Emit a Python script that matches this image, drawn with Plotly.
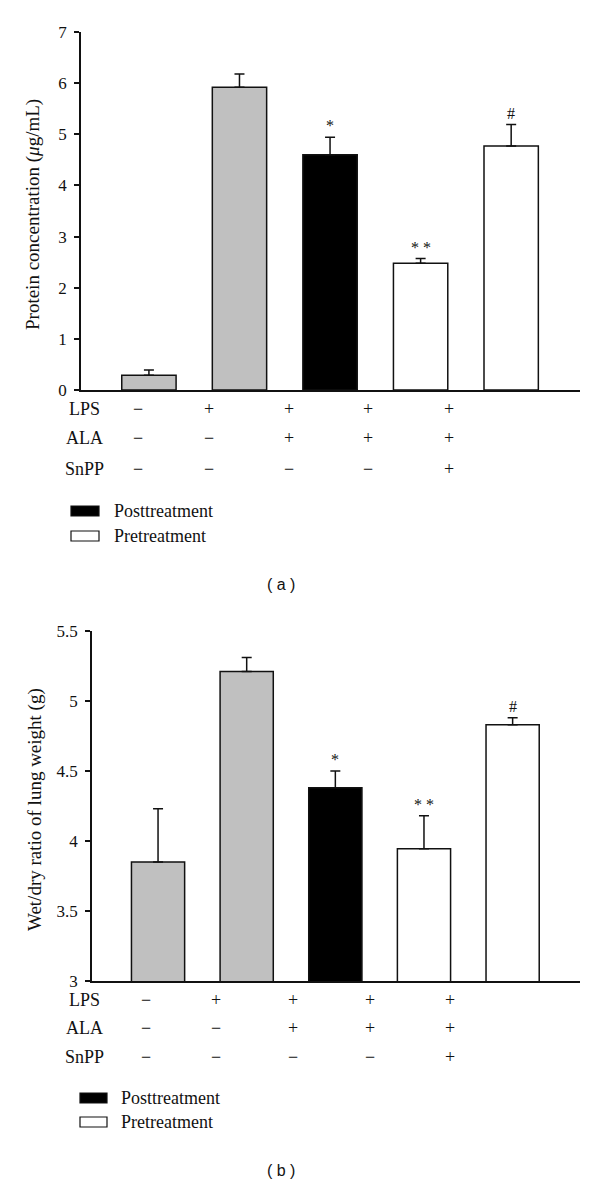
import plotly.graph_objects as go

# ---- data ----
groups = ["G1", "G2", "G3", "G4", "G5"]
protein_vals = [0.29, 5.92, 4.60, 2.48, 4.77]
protein_err = [0.10, 0.26, 0.34, 0.09, 0.42]
wetdry_vals = [3.85, 5.21, 4.38, 3.945, 4.83]
wetdry_err = [0.38, 0.10, 0.12, 0.235, 0.05]
bar_colors = ["#c0c0c0", "#c0c0c0", "#000000", "#ffffff", "#ffffff"]
sig_a = ["", "", "*", "* *", "#"]
sig_b = ["", "", "*", "* *", "#"]
row_labels = ["LPS", "ALA", "SnPP"]
LPS = ["−", "+", "+", "+", "+"]
ALA = ["−", "−", "+", "+", "+"]
SnPP = ["−", "−", "−", "−", "+"]
legend_labels = ["Posttreatment", "Pretreatment"]
legend_fills = ["#000000", "#ffffff"]
panel_labels = ["( a )", "( b )"]

W, H = 600, 1185
SERIF = "Liberation Serif"
BLACK = "#111111"

def px(x):
    return x / W

def py(y):
    return 1 - y / H

fig = go.Figure()
xs = list(range(len(groups)))

for vals, errs, xa, ya in [(protein_vals, protein_err, "x", "y"),
                           (wetdry_vals, wetdry_err, "x2", "y2")]:
    fig.add_trace(go.Bar(
        x=xs, y=vals, width=0.6,
        marker=dict(color=bar_colors, line=dict(color=BLACK, width=1.5)),
        error_y=dict(type="data", array=errs, arrayminus=[0] * len(errs),
                     symmetric=False, color=BLACK, thickness=1.5, width=5),
        xaxis=xa, yaxis=ya, showlegend=False, hoverinfo="skip"))

axis_common = dict(showgrid=False, zeroline=False, showline=True,
                   linecolor=BLACK, linewidth=1.5, automargin=False)
yaxis_common = dict(ticks="outside", ticklen=5, tickwidth=1.5, tickcolor=BLACK,
                    ticklabelstandoff=4,
                    tickfont=dict(family=SERIF, size=17, color=BLACK))

fig.update_layout(
    width=W, height=H, margin=dict(l=0, r=0, t=0, b=0),
    paper_bgcolor="white", plot_bgcolor="white",
    font=dict(family=SERIF, color=BLACK, size=17),
    xaxis=dict(domain=[px(81), px(580)], range=[-0.75, 4.76], showticklabels=False,
               ticks="", anchor="y", **axis_common),
    yaxis=dict(domain=[py(390), py(32)], range=[0, 7], dtick=1, anchor="x",
               **yaxis_common, **axis_common),
    xaxis2=dict(domain=[px(92), px(580)], range=[-0.745, 4.76], showticklabels=False,
                ticks="", anchor="y2", **axis_common),
    yaxis2=dict(domain=[py(981), py(631)], range=[3, 5.5], dtick=0.5, anchor="x2",
                **yaxis_common, **axis_common),
)

anns = []
shapes = []

# significance marks
for vals, errs, sigs, xr, yr in [(protein_vals, protein_err, sig_a, "x", "y"),
                                 (wetdry_vals, wetdry_err, sig_b, "x2", "y2")]:
    for i, s in enumerate(sigs):
        if s:
            anns.append(dict(x=i, y=vals[i] + errs[i], xref=xr, yref=yr, text=s,
                             showarrow=False, xanchor="center", yanchor="bottom", yshift=1,
                             font=dict(family=SERIF, size=16, color=BLACK)))

# axis titles
anns.append(dict(x=px(33), y=py(215), xref="paper", yref="paper",
                 text="Protein concentration (<i>μ</i>g/mL)", textangle=-90,
                 xanchor="center", yanchor="middle",
                 showarrow=False, font=dict(family=SERIF, size=19, color=BLACK)))
anns.append(dict(x=px(35), y=py(810), xref="paper", yref="paper",
                 text="Wet/dry ratio of lung weight (g)", textangle=-90,
                 xanchor="center", yanchor="middle",
                 showarrow=False, font=dict(family=SERIF, size=19, color=BLACK)))

# treatment tables
table_cfg = [
    dict(rows_y=[409, 438, 469], cols_x=[138, 209, 289, 368, 449], label_x=84,
         leg_rect_x=(71, 99), leg_y=[511, 536], leg_text_x=112, panel_y=584),
    dict(rows_y=[1000, 1028, 1057], cols_x=[146, 216, 293, 370, 450], label_x=84,
         leg_rect_x=(80, 107), leg_y=[1098, 1122], leg_text_x=119, panel_y=1170),
]
rows = [LPS, ALA, SnPP]
for k, cfg in enumerate(table_cfg):
    for r, (lab, row) in enumerate(zip(row_labels, rows)):
        yy = cfg["rows_y"][r]
        anns.append(dict(x=px(cfg["label_x"]), y=py(yy), xref="paper", yref="paper",
                         text=lab, showarrow=False, xanchor="center", yanchor="middle",
                         font=dict(family=SERIF, size=18, color=BLACK)))
        for c, sgn in enumerate(row):
            anns.append(dict(x=px(cfg["cols_x"][c]), y=py(yy), xref="paper", yref="paper",
                             text=sgn, showarrow=False, xanchor="center", yanchor="middle",
                             font=dict(family=SERIF, size=18, color=BLACK)))
    for j, (lab, fill) in enumerate(zip(legend_labels, legend_fills)):
        yc = cfg["leg_y"][j]
        x0, x1 = cfg["leg_rect_x"]
        shapes.append(dict(type="rect", xref="paper", yref="paper",
                           x0=px(x0), x1=px(x1), y0=py(yc + 5), y1=py(yc - 5),
                           fillcolor=fill, line=dict(color=BLACK, width=1.2)))
        anns.append(dict(x=px(cfg["leg_text_x"]), y=py(yc), xref="paper", yref="paper",
                         text=lab, showarrow=False, xanchor="left", yanchor="middle",
                         font=dict(family=SERIF, size=18, color=BLACK)))
    anns.append(dict(x=px(281), y=py(cfg["panel_y"]), xref="paper", yref="paper",
                     text=panel_labels[k], showarrow=False, xanchor="center",
                     yanchor="middle", font=dict(family="Liberation Sans", size=16, color=BLACK)))

fig.update_layout(annotations=anns, shapes=shapes)
fig.write_html("out.html", config={"displayModeBar": False},
               post_script="document.body.style.margin='0';")
